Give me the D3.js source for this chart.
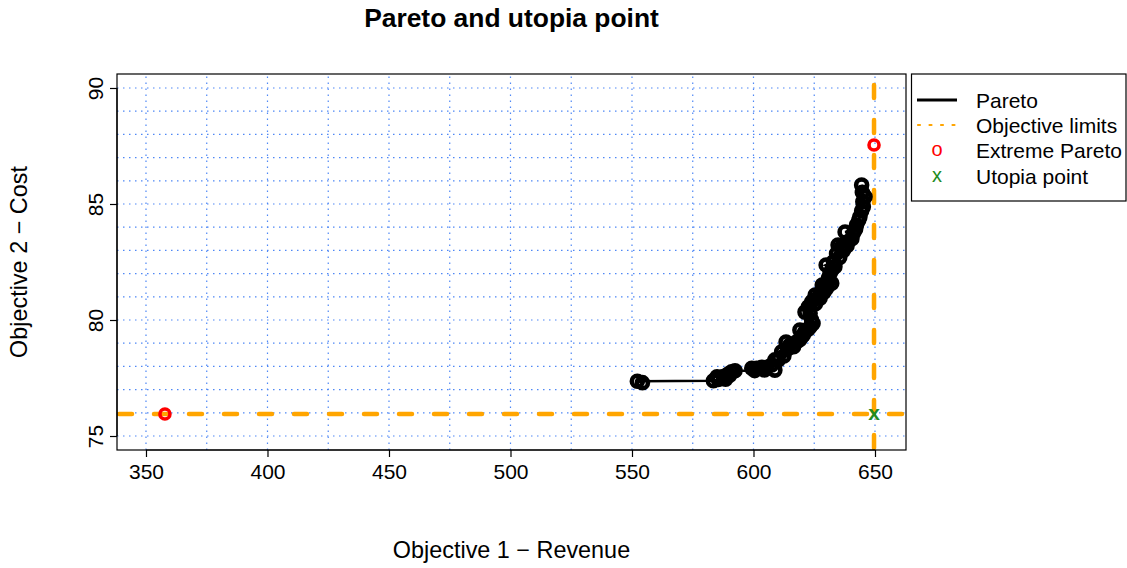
<!DOCTYPE html>
<html>
<head>
<meta charset="utf-8">
<script src="https://cdn.jsdelivr.net/npm/d3@7"></script>
<style>
  html, body { margin: 0; padding: 0; background: #fff; }
  svg { display: block; font-family: "Liberation Sans", Arial, sans-serif; }
</style>
</head>
<body>
<svg id="chart" width="1127" height="568"></svg>
<script>
// ---- data ----
const xTicks = [350, 400, 450, 500, 550, 600, 650];
const yTicks = [75, 80, 85, 90];
const xGrid = [350, 375, 400, 425, 450, 475, 500, 525, 550, 575, 600, 625, 650];
const yGrid = [75, 76, 77, 78, 79, 80, 81, 82, 83, 84, 85, 86, 87, 88, 89, 90];
const paretoRevenue = [552.2, 554.3, 583.5, 585.0, 585.5, 587.6, 588.5, 589.6, 590.2, 591.0, 592.4,
  599.3, 600.5, 601.3, 603.4, 604.5, 605.4, 607.5, 608.8,
  608.8, 610.2, 611.6, 612.5, 613.4, 614.0, 615.0, 616.5, 617.8, 619.0, 619.1, 619.8, 620.5, 621.2, 622.5,
  623.3, 623.9, 624.5, 621.2, 623.3, 622.6, 624.0, 625.5, 625.4, 626.5,
  627.4, 628.1, 628.3, 629.0, 630.1, 629.4, 632.2, 630.5, 630.8, 631.5, 629.9, 632.2, 633.5, 632.9, 634.2,
  635.5, 634.8, 636.3, 637.0, 638.5, 637.7, 639.0, 640.5, 641.1,
  642.0, 642.4, 643.3, 643.8, 644.5, 645.2, 645.0, 645.9, 644.8, 644.5];
const paretoCost = [77.36, 77.30, 77.38, 77.55, 77.44, 77.56, 77.45, 77.67, 77.62, 77.77, 77.81,
  77.92, 77.82, 77.92, 77.96, 77.85, 77.96, 78.06, 77.84,
  78.28, 78.28, 78.63, 78.45, 79.05, 78.75, 78.92, 78.85, 79.06, 79.15, 79.57, 79.28, 79.35, 79.50, 79.60,
  79.71, 80.00, 79.85, 80.34, 80.29, 80.57, 80.79, 80.70, 81.08, 80.95,
  80.94, 81.15, 81.51, 81.20, 81.37, 81.44, 81.58, 81.60, 81.80, 82.00, 82.37, 82.16, 82.30, 82.51, 82.87,
  82.70, 83.23, 83.16, 83.00, 83.20, 83.79, 83.38, 83.50, 83.74,
  83.90, 84.09, 84.30, 84.45, 84.70, 84.88, 85.10, 85.31, 85.50, 85.82];
const extremeRevenue = [357.8, 649.6];
const extremeCost = [75.95, 87.54];
const utopiaRevenue = [649.6];
const utopiaCost = [75.95];
const legendLabels = ["Pareto", "Objective limits", "Extreme Pareto", "Utopia point"];
const titleText = "Pareto and utopia point";
const xLabel = "Objective 1 \u2212 Revenue";
const yLabel = "Objective 2 \u2212 Cost";

// ---- layout ----
const plotL = 117, plotR = 906, plotT = 74, plotB = 450;
const svg = d3.select("#chart");
const x = d3.scaleLinear().domain([338.07, 662.76]).range([plotL, plotR]);
const y = d3.scaleLinear().domain([74.397, 90.603]).range([plotB, plotT]);
const FS = 21;

// grid
const grid = svg.append("g").attr("stroke", "#4f88f5").attr("stroke-width", 1.2)
  .attr("stroke-dasharray", "1.5,4.5").attr("fill", "none");
grid.selectAll("line.gx").data(xGrid).join("line").attr("class", "gx")
  .attr("x1", d => x(d)).attr("x2", d => x(d)).attr("y1", plotB).attr("y2", plotT);
grid.selectAll("line.gy").data(yGrid).join("line").attr("class", "gy")
  .attr("y1", d => y(d)).attr("y2", d => y(d)).attr("x1", plotL).attr("x2", plotR);

// objective limits (orange dashed)
const lim = svg.append("g").attr("stroke", "#FFA500").attr("stroke-width", 4.5)
  .attr("stroke-dasharray", "13,22").attr("stroke-linecap", "round").attr("fill", "none");
lim.selectAll("line.h").data(utopiaCost).join("line").attr("class", "h")
  .attr("x1", plotL + 2).attr("x2", plotR).attr("y1", d => y(d)).attr("y2", d => y(d));
lim.selectAll("line.v").data(utopiaRevenue).join("line").attr("class", "v")
  .attr("x1", d => x(d)).attr("x2", d => x(d)).attr("y1", plotB - 2).attr("y2", plotT);

// pareto line + points
const pareto = paretoRevenue.map((r, i) => ({ r, c: paretoCost[i] }));
const paretoSorted = pareto.slice().sort((a, b) => a.c - b.c);
svg.append("path").datum(paretoSorted)
  .attr("d", d3.line().x(d => x(d.r)).y(d => y(d.c)))
  .attr("fill", "none").attr("stroke", "#000").attr("stroke-width", 2.6);
svg.append("g").selectAll("circle").data(pareto).join("circle")
  .attr("cx", d => x(d.r)).attr("cy", d => y(d.c)).attr("r", 5.5)
  .attr("fill", "none").attr("stroke", "#000").attr("stroke-width", 4.6);

// extreme points
svg.append("g").selectAll("circle").data(extremeRevenue).join("circle")
  .attr("cx", d => x(d)).attr("cy", (d, i) => y(extremeCost[i])).attr("r", 5)
  .attr("fill", "none").attr("stroke", "#FF0000").attr("stroke-width", 3.6);

// utopia point
svg.append("g").selectAll("text").data(utopiaRevenue).join("text")
  .attr("x", d => x(d)).attr("y", (d, i) => y(utopiaCost[i]))
  .attr("text-anchor", "middle").attr("dy", "0.3em")
  .attr("font-size", FS).attr("font-weight", "bold").attr("fill", "#228B22").text("x");

// box
svg.append("rect").attr("x", plotL).attr("y", plotT).attr("width", plotR - plotL).attr("height", plotB - plotT)
  .attr("fill", "none").attr("stroke", "#000").attr("stroke-width", 1.2);

// axes
const xAxis = d3.axisBottom(x).tickValues(xTicks).tickSize(7).tickPadding(7).tickFormat(d3.format("d"));
const gx = svg.append("g").attr("transform", `translate(0,${plotB})`).call(xAxis);
gx.select(".domain").attr("d", `M${x(xTicks[0])},0H${x(xTicks[xTicks.length - 1])}`);
gx.selectAll("text").attr("font-size", FS).attr("font-family", "Liberation Sans, Arial, sans-serif").attr("fill", "#000");
gx.selectAll("line, path").attr("stroke", "#000").attr("stroke-width", 1.2);

const yAxis = d3.axisLeft(y).tickValues(yTicks).tickSize(7).tickFormat(d3.format("d"));
const gy = svg.append("g").attr("transform", `translate(${plotL},0)`).call(yAxis);
gy.select(".domain").attr("d", `M0,${y(yTicks[0])}V${y(yTicks[yTicks.length - 1])}`);
gy.selectAll("line, path").attr("stroke", "#000").attr("stroke-width", 1.2);
gy.selectAll("text")
  .attr("font-size", FS).attr("font-family", "Liberation Sans, Arial, sans-serif").attr("fill", "#000")
  .attr("x", 0).attr("y", 0).attr("dy", 0).attr("text-anchor", "middle")
  .attr("transform", "translate(-14,0) rotate(-90)");

// titles
svg.append("text").attr("x", (plotL + plotR) / 2).attr("y", 27).attr("text-anchor", "middle")
  .attr("font-size", 26.4).attr("font-weight", "bold").text(titleText);
svg.append("text").attr("x", (plotL + plotR) / 2).attr("y", 558).attr("text-anchor", "middle")
  .attr("font-size", 23.4).text(xLabel);
svg.append("text").attr("transform", `translate(27,${(plotT + plotB) / 2}) rotate(-90)`)
  .attr("text-anchor", "middle").attr("font-size", 23.4).text(yLabel);

// legend
const lg = svg.append("g");
lg.append("rect").attr("x", 911.5).attr("y", 74).attr("width", 214.5).attr("height", 127)
  .attr("fill", "#fff").attr("stroke", "#000").attr("stroke-width", 1.2);
const rowY = [100, 125, 150, 176];
lg.append("line").attr("x1", 917).attr("x2", 957).attr("y1", rowY[0]).attr("y2", rowY[0])
  .attr("stroke", "#000").attr("stroke-width", 3);
lg.append("line").attr("x1", 918).attr("x2", 957).attr("y1", rowY[1]).attr("y2", rowY[1])
  .attr("stroke", "#FFA500").attr("stroke-width", 2.2).attr("stroke-dasharray", "2,9.5").attr("stroke-linecap", "round");
lg.append("text").attr("x", 937).attr("y", rowY[2]).attr("dy", "0.3em").attr("text-anchor", "middle")
  .attr("font-size", 20).attr("fill", "#FF0000").text("o");
lg.append("text").attr("x", 937).attr("y", rowY[3]).attr("dy", "0.3em").attr("text-anchor", "middle")
  .attr("font-size", 20).attr("fill", "#228B22").text("x");
lg.selectAll("text.lab").data(legendLabels).join("text").attr("class", "lab")
  .attr("x", 976).attr("y", (d, i) => rowY[i]).attr("dy", "0.36em")
  .attr("font-size", 21).text(d => d);
</script>
</body>
</html>
